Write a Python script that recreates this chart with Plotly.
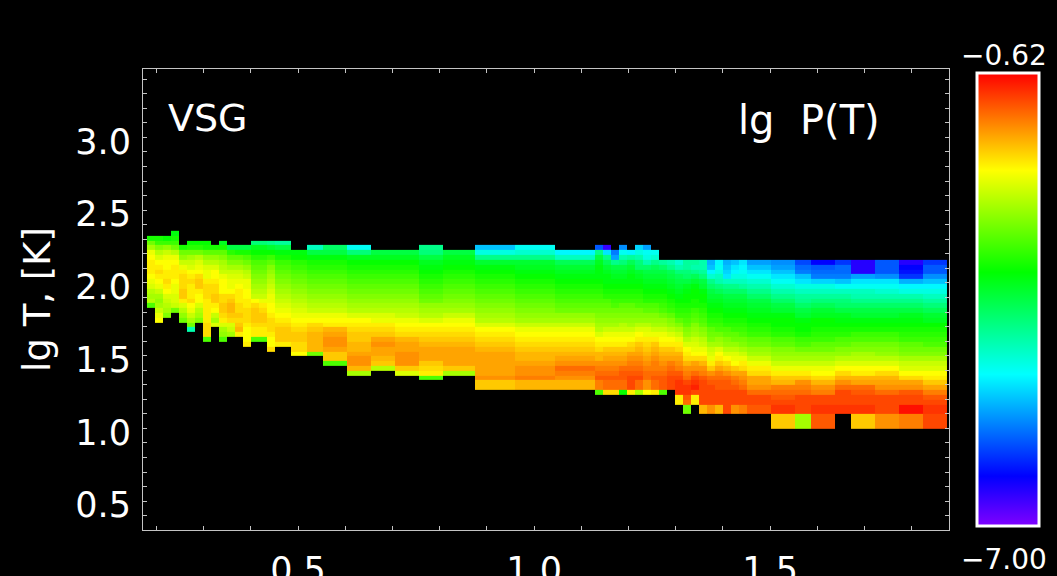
import plotly.graph_objects as go

# lg v bin edges (x) and lg T bin edges (y)
x_edges = [0.180,0.197,0.214,0.231,0.248,0.265,0.282,0.299,0.316,0.333,0.350,0.367,0.383,0.400,0.417,0.434,
           0.451,0.485,0.519,0.553,0.604,0.655,0.706,0.756,0.807,0.875,0.960,1.044,1.129,1.146,1.163,1.180,
           1.197,1.214,1.231,1.248,1.265,1.282,1.299,1.316,1.333,1.350,1.367,1.383,1.400,1.417,1.434,1.451,
           1.502,1.553,1.587,1.638,1.672,1.722,1.773,1.824,1.875]
y_edges = [2.358,2.325,2.292,2.259,2.225,2.192,2.159,2.126,2.093,2.060,2.027,1.993,1.960,1.927,1.894,1.861,
           1.828,1.795,1.761,1.728,1.695,1.662,1.629,1.596,1.563,1.529,1.496,1.463,1.430,1.397,1.364,1.331,
           1.298,1.264,1.231,1.198,1.165,1.132,1.099,1.066,1.033,1.000]

# index of the first filled lg T bin in each column (0 = top)
first_bin = [1,1,1,0,3,2,2,2,3,2,3,3,3,2,2,2,2,4,3,3,3,4,4,3,4,3,3,4,3,3,4,3,4,3,3,4,6,6,6,6,6,6,6,6,6,6,6,6,6,6,6,6,6,6,6,6]

# -10 * lg P(T) for each column, listed from the top bin down
neg_lgP_tenths = [
 [33,28,25,21,20,19,19,19,20,21,22,24,25,24,30],
 [33,31,27,24,22,20,19,18,19,20,21,23,25,26,25,23,21,20],
 [34,31,26,23,21,20,20,19,19,18,19,20,22,23,24,25,27],
 [35,33,31,28,24,21,20,19,19,19,20,21,21,22,22,23,28],
 [33,28,26,23,21,19,18,18,18,17,17,19,22,24,26,28],
 [34,32,28,25,23,22,20,19,18,19,19,19,18,20,21,23,25,28,44],
 [34,32,28,24,22,21,20,18,17,17,19,20,20,22,24,25,27],
 [34,33,29,26,24,22,21,21,19,18,18,18,19,19,19,19,19,18,18,18,30],
 [33,29,26,24,22,20,20,19,18,18,17,17,19,20,23,25,22],
 [36,33,29,27,25,24,23,21,20,20,20,18,18,17,17,18,19,22,25,26,30],
 [38,32,29,27,25,23,22,21,21,20,18,17,16,16,17,18,22,23,25],
 [38,33,29,27,25,23,22,21,20,19,19,19,18,18,17,18,17,16,19],
 [38,33,30,28,26,24,23,21,21,20,20,19,19,18,18,18,19,20,20,20,19],
 [41,36,34,32,30,29,28,27,26,25,24,23,20,18,17,17,17,18,19,19,30],
 [41,36,34,32,30,29,28,27,26,25,24,23,21,19,18,17,17,18,19,19,30],
 [42,37,34,31,29,27,26,25,24,23,22,21,21,20,20,19,18,18,18,19,20,20,18],
 [43,38,35,33,31,30,29,28,27,26,25,24,23,22,21,20,19,18,17,17,17,19],
 [35,34,32,31,30,29,28,27,26,25,24,23,22,21,20,19,18,17,17,18,18,20],
 [45,38,35,33,32,31,30,29,28,27,26,25,24,23,21,20,18,17,16,16,16,16,28],
 [40,38,35,33,32,31,30,29,28,27,26,25,24,23,21,20,19,16,15,14,14,15,17,17,30],
 [48,41,36,34,33,32,31,30,29,28,27,26,25,24,22,20,19,18,17,17,16,16,15,14,14,16,25],
 [38,36,34,33,32,31,30,29,28,27,26,25,24,22,21,19,18,17,15,14,15,15,16,17,24],
 [38,36,34,33,32,31,30,29,28,27,26,25,24,23,21,20,19,18,16,15,15,14,14,14,17,22],
 [42,41,38,36,35,34,33,32,31,30,29,28,26,25,24,22,20,19,18,17,16,15,15,15,17,18,19,30],
 [38,36,35,34,33,32,31,30,29,28,27,26,25,23,21,20,19,18,17,16,15,15,15,15,17,25],
 [52,47,42,37,35,34,33,32,31,30,29,28,27,26,25,24,22,20,19,18,17,16,15,15,15,15,15,14,17,17],
 [48,46,42,37,36,35,34,33,32,31,30,29,28,27,26,25,23,21,20,19,18,17,16,16,15,14,14,13,16,16],
 [49,45,39,37,36,35,34,33,32,31,30,29,28,26,25,23,21,20,19,18,17,16,15,14,12,13,14,16,16],
 [58,42,38,36,35,35,35,34,33,32,31,30,29,28,27,26,25,24,22,20,19,18,16,16,14,13,12,11,13,13,30],
 [66,50,42,39,37,36,35,35,34,33,32,30,29,28,27,26,25,23,21,20,19,17,16,15,14,13,12,11,12,12,18],
 [56,54,42,38,37,36,35,34,33,32,31,30,28,27,26,25,23,21,20,19,17,16,15,14,13,12,11,12,12,18],
 [55,48,44,41,38,37,36,35,34,33,32,31,29,28,27,26,24,23,21,20,19,17,16,15,14,12,11,11,12,12,34],
 [49,43,39,37,36,35,35,34,33,32,31,29,28,27,26,25,23,21,20,18,17,15,14,13,12,11,10,10,10,19],
 [51,47,44,41,40,37,36,35,34,33,32,31,30,28,27,26,24,22,20,19,17,16,15,14,13,12,11,10,12,12,25],
 [54,48,47,44,40,38,37,36,35,34,33,32,30,29,27,26,24,22,21,19,18,17,16,15,14,13,12,12,14,14,20],
 [48,46,42,39,38,37,36,35,34,33,32,30,29,27,26,25,23,21,19,17,16,15,14,13,13,12,11,12,12,19],
 [43,40,38,37,36,35,34,33,32,31,30,28,26,25,23,21,20,19,17,16,15,14,13,12,11,11,11,30],
 [44,42,39,38,37,36,35,34,33,32,31,29,27,26,24,22,20,19,17,16,15,13,12,11,10,10,10],
 [46,44,41,39,38,37,36,35,34,33,32,31,29,27,25,23,21,19,18,16,15,14,13,11,10,9,9,9,19,19],
 [43,43,41,40,38,36,35,34,34,33,32,31,30,29,27,26,24,22,20,19,18,16,14,13,12,10,9,9,11,12,28,28],
 [43,44,42,39,37,35,34,34,33,33,31,30,29,27,26,25,23,22,21,20,18,15,14,12,10,9,8,10,19,19],
 [44,44,43,41,38,37,35,34,34,33,32,31,30,29,27,26,24,23,21,20,18,16,14,13,11,10,10,10,10,10,16,16],
 [53,52,49,46,42,40,38,37,36,35,34,33,32,31,29,28,27,25,23,22,21,19,17,14,12,11,10,10,10,10,14,14],
 [49,48,47,45,44,41,39,37,36,35,34,33,32,31,30,28,26,25,22,20,19,17,15,13,12,11,11,10,10,10,16,16],
 [53,52,51,50,45,42,40,38,37,36,35,34,33,32,30,29,27,26,24,22,20,18,16,14,12,11,11,10,10,10,10,10],
 [52,50,49,47,45,42,40,38,37,36,35,34,33,32,31,29,28,26,24,22,21,20,17,15,13,12,11,10,10,10,14,14],
 [50,49,48,47,45,43,40,38,37,36,35,34,33,32,31,30,28,27,25,23,21,19,18,15,14,13,12,10,10,10,13,13],
 [54,52,50,48,46,44,42,40,38,37,36,35,34,33,32,31,29,28,26,25,23,21,19,18,15,15,14,12,10,10,11,11],
 [55,54,52,50,48,46,44,42,40,38,37,35,34,34,33,32,30,29,27,26,25,23,21,19,17,16,13,12,11,10,9,9,17,17,17],
 [59,57,56,52,50,47,45,43,42,40,38,37,35,34,34,33,31,30,28,26,25,23,21,19,17,14,13,12,10,10,10,10,25,25,25],
 [63,58,57,56,51,47,45,43,41,39,37,36,34,34,33,32,31,29,28,26,25,23,21,20,18,16,14,13,10,10,9,9,11,11,11],
 [60,57,57,56,52,48,45,43,41,40,38,36,35,34,33,32,30,29,27,26,24,22,20,18,16,14,12,10,10,10,9,9],
 [65,65,65,54,50,48,45,44,42,40,38,37,35,34,33,31,30,28,27,25,24,22,20,19,16,15,12,11,10,10,9,9,17,17,17],
 [58,58,58,55,50,48,46,44,42,40,38,37,35,34,33,31,30,28,27,26,24,22,20,18,16,15,14,12,10,10,10,10,14,14,14],
 [65,63,62,60,53,49,47,44,42,40,38,36,35,34,33,32,31,29,28,27,25,23,22,20,18,15,14,11,10,10,7,7,13,13,13],
 [60,58,58,55,52,49,47,45,43,41,39,37,36,34,33,32,31,30,28,27,25,23,22,20,19,17,15,13,11,10,9,9,10,10,10],
]

x_ticks_major = 0.5
x_ticks_minor = 0.1
title_text = "lg T, [K]"
label_left = "VSG"
label_right = "lg  P(T)"
bar_max = "\u22120.62"
bar_min = "\u22127.00"
z_min = -7.0
z_max = -0.62

W, H = 1057, 576
n_rows = len(y_edges) - 1
n_cols = len(x_edges) - 1
z = [[None] * n_cols for _ in range(n_rows)]
for c, (top, vals) in enumerate(zip(first_bin, neg_lgP_tenths)):
    for k, v in enumerate(vals):
        z[top + k][c] = -v / 10.0

colorscale = [[0, "#8000ff"], [0.11, "#0000ff"], [0.335, "#00ffff"],
              [0.56, "#00ff00"], [0.785, "#ffff00"], [1, "#ff0000"]]

FONT = "DejaVu Sans"
AXC = "#c4c4c4"

fig = go.Figure(go.Heatmap(
    x=x_edges, y=y_edges[::-1], z=z[::-1], zmin=z_min, zmax=z_max,
    colorscale=colorscale, hoverongaps=False,
    colorbar=dict(x=977/W, xanchor="left", y=1-526/H, yanchor="bottom",
                  thickness=62, thicknessmode="pixels", len=453/H, lenmode="fraction",
                  xpad=0, ypad=0, outlinecolor="white", outlinewidth=3,
                  borderwidth=0, showticklabels=False, ticks=""),
))

axis_common = dict(showgrid=False, zeroline=False, showline=True, linecolor=AXC, linewidth=1,
                   mirror="allticks", ticks="inside", ticklen=4, tickcolor=AXC, tickwidth=1,
                   dtick=x_ticks_major, tick0=0,
                   minor=dict(dtick=x_ticks_minor, tick0=0, ticks="inside", ticklen=4,
                              tickcolor=AXC, tickwidth=1, showgrid=False),
                   tickfont=dict(family=FONT, size=35, color="white"), tickformat=".1f")

fig.update_layout(
    width=W, height=H, autosize=False,
    paper_bgcolor="black", plot_bgcolor="black",
    margin=dict(l=0, r=0, t=0, b=0, pad=0, autoexpand=False),
    xaxis=dict(domain=[143/W, 949/W], range=[0.1716, 1.879], ticklabelstandoff=9, **axis_common),
    yaxis=dict(domain=[1-530/H, 1-69/H], range=[0.302, 3.47], ticklabelstandoff=4, ticklabelshift=4,
               title=dict(text=title_text, font=dict(family=FONT, size=37, color="white"), standoff=13),
               **axis_common),
    annotations=[
        dict(text=label_left, x=166/W, y=1-118/H, xref="paper", yref="paper", xanchor="left", yanchor="middle",
             showarrow=False, font=dict(family=FONT, size=38, color="white")),
        dict(text=label_right, x=736/W, y=1-120/H, xref="paper", yref="paper", xanchor="left", yanchor="middle",
             showarrow=False, font=dict(family=FONT, size=40, color="white")),
        dict(text=bar_max, x=1004/W, y=1-56/H, xref="paper", yref="paper", xanchor="center", yanchor="middle",
             showarrow=False, font=dict(family=FONT, size=28, color="white")),
        dict(text=bar_min, x=1004/W, y=1-559/H, xref="paper", yref="paper", xanchor="center", yanchor="middle",
             showarrow=False, font=dict(family=FONT, size=28, color="white")),
    ],
)

fig.write_html("out.html", config={"displayModeBar": False},
               post_script="document.body.style.margin='0';document.body.style.background='black';document.body.style.overflow='hidden';")
